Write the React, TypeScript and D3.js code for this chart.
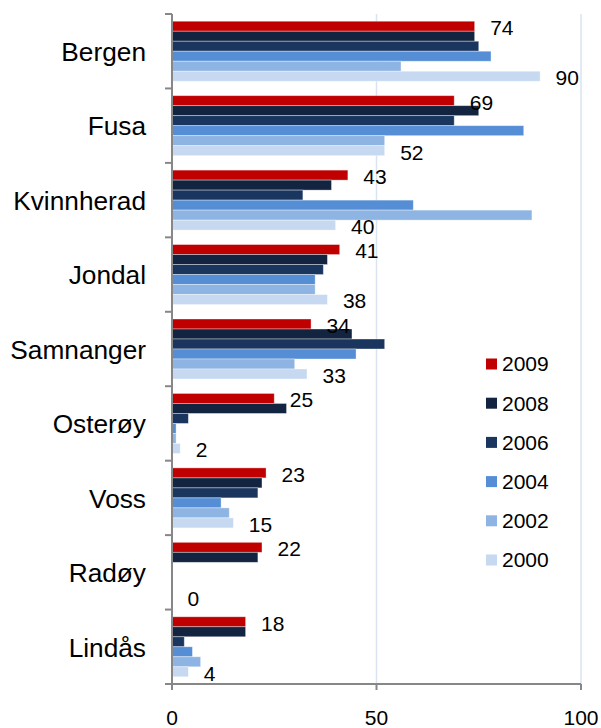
import React from "react";
import { scaleBand, scaleLinear } from "d3";

const municipalities = ["Bergen", "Fusa", "Kvinnherad", "Jondal", "Samnanger", "Osterøy", "Voss", "Radøy", "Lindås"];
const years = ["2009", "2008", "2006", "2004", "2002", "2000"];

const y2009 = [74, 69, 43, 41, 34, 25, 23, 22, 18];
const y2008 = [74, 75, 39, 38, 44, 28, 22, 21, 18];
const y2006 = [75, 69, 32, 37, 52, 4, 21, 0, 3];
const y2004 = [78, 86, 59, 35, 45, 1, 12, 0, 5];
const y2002 = [56, 52, 88, 35, 30, 1, 14, 0, 7];
const y2000 = [90, 52, 40, 38, 33, 2, 15, 0, 4];

const xTicks = [0, 50, 100];

const colors: Record<string, string> = {
  "2009": "#C00000",
  "2008": "#12243F",
  "2006": "#1A365F",
  "2004": "#558ED5",
  "2002": "#8EB4E3",
  "2000": "#C6D9F1",
};

const series: Record<string, number[]> = {
  "2009": y2009,
  "2008": y2008,
  "2006": y2006,
  "2004": y2004,
  "2002": y2002,
  "2000": y2000,
};

// years that get a value label
const labelled = ["2009", "2000"];

const W = 601;
const H = 728;
const font = "Liberation Sans, Arial, sans-serif";

export default function App() {
  const left = 172;
  const right = 581;
  const top = 14;
  const bottom = 684;

  const x = scaleLinear().domain([0, 100]).range([left, right]);
  const y = scaleBand<string>()
    .domain(municipalities)
    .range([top, bottom])
    .paddingInner(0.194)
    .paddingOuter(0.097);
  const yInner = scaleBand<string>().domain(years).range([0, y.bandwidth()]);
  const step = (bottom - top) / municipalities.length;

  return (
    <svg width={W} height={H} style={{ position: "absolute", left: 0, top: 0 }} fontFamily={font}>
      <rect width={W} height={H} fill="#fff" />

      {/* gridlines */}
      {xTicks.slice(1).map((t) => (
        <line key={`g-${t}`} x1={x(t)} x2={x(t)} y1={top} y2={bottom} stroke="#D9E3F1" strokeWidth={1.5} />
      ))}

      {/* bars */}
      {municipalities.map((m, i) => (
        <g key={m} transform={`translate(0,${y(m)})`}>
          {years.map((yr) => {
            const v = series[yr][i];
            if (v <= 0) return null;
            return (
              <rect
                key={yr}
                x={x(0)}
                y={yInner(yr)}
                width={x(v) - x(0)}
                height={yInner.bandwidth()}
                fill={colors[yr]}
                stroke="rgba(255,255,255,0.45)"
                strokeWidth={0.8}
              />
            );
          })}
          {labelled.map((yr) => {
            const v = series[yr][i];
            return (
              <text
                key={`l-${yr}`}
                x={x(v) + 15.5}
                y={(yInner(yr) ?? 0) + yInner.bandwidth() / 2 + 1.5}
                dy="0.35em"
                fontSize={21}
                fill="#000"
              >
                {v}
              </text>
            );
          })}
        </g>
      ))}

      {/* y axis */}
      <line x1={left} x2={left} y1={top} y2={bottom} stroke="#878787" strokeWidth={2} />
      {municipalities.map((m, i) => (
        <line key={`yt-${m}`} x1={left - 7} x2={left} y1={top + i * step} y2={top + i * step} stroke="#878787" strokeWidth={2} />
      ))}
      {municipalities.map((m) => (
        <text
          key={`yl-${m}`}
          transform={`translate(146,${(y(m) ?? 0) + y.bandwidth() / 2 + 1}) scale(1.05,1)`}
          dy="0.35em"
          textAnchor="end"
          fontSize={25}
          fill="#000"
        >
          {m}
        </text>
      ))}

      {/* x axis */}
      <line x1={left - 7} x2={right} y1={bottom} y2={bottom} stroke="#878787" strokeWidth={2} />
      {xTicks.map((t) => (
        <g key={`xt-${t}`}>
          <line x1={x(t)} x2={x(t)} y1={bottom} y2={bottom + 6} stroke="#878787" strokeWidth={2} />
          <text x={x(t)} y={718} dy="0.35em" textAnchor="middle" fontSize={21} fill="#000">
            {t}
          </text>
        </g>
      ))}

      {/* legend */}
      {years.map((yr, i) => (
        <g key={`lg-${yr}`} transform={`translate(486,${364 + i * 39.2})`}>
          <rect x={0} y={-5.5} width={11} height={11} fill={colors[yr]} />
          <text x={16} y={0} dy="0.35em" fontSize={21} fill="#000">
            {yr}
          </text>
        </g>
      ))}
    </svg>
  );
}
